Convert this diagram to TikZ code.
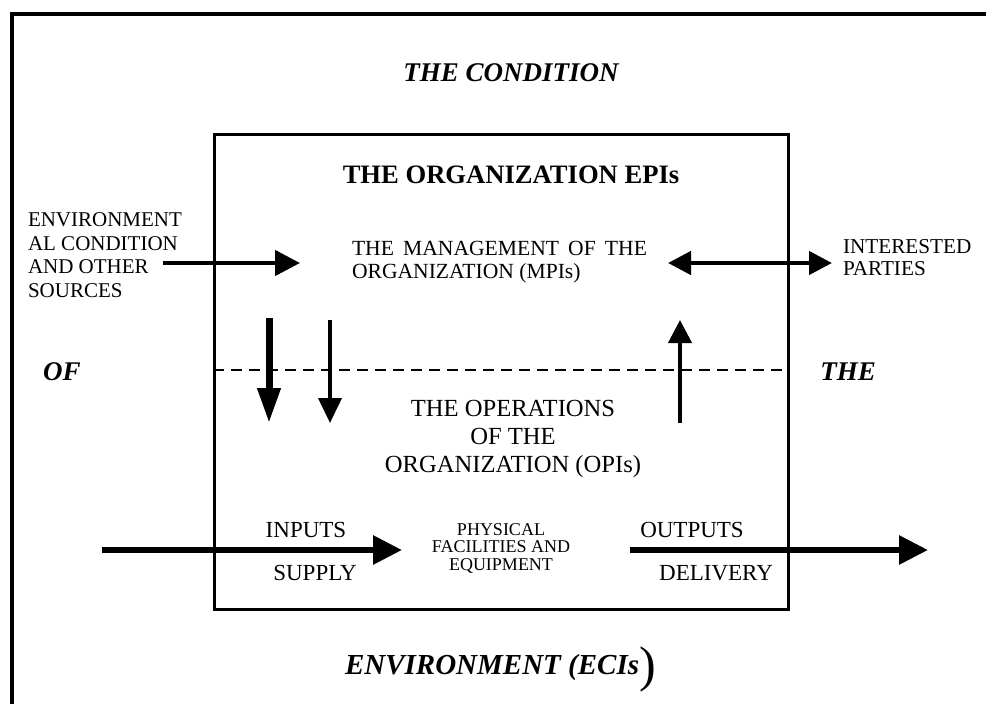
\documentclass[tikz,border=0pt]{standalone}
\usepackage{fontspec}
\setmainfont{Liberation Serif}
\usetikzlibrary{arrows.meta}
\tikzset{
  txt/.style={inner sep=0pt, outer sep=0pt},
  bigit/.style={txt, font=\fontsize{27}{30}\selectfont\bfseries\itshape},
  flow/.style={line width=4.5pt, -{Triangle[length=25pt,width=25pt]}},
  heavy/.style={line width=6pt, -{Triangle[length=29pt,width=28pt]}},
}
\begin{document}
\begin{tikzpicture}[x=1pt,y=-1pt]
\clip (0,0) rectangle (986,704);
\fill[white] (0,0) rectangle (986,704);
% outer frame (extends beyond the picture)
\draw[line width=4pt] (12,740) -- (12,14) -- (1020,14);
% inner box
\node[draw, line width=3pt, minimum width=574pt, minimum height=475pt, inner sep=0pt, anchor=north west] (org) at (213,133) {};
% texts
\node[bigit] (cond) at (511,73) {THE CONDITION};
\node[txt, font=\fontsize{26.6}{30}\selectfont\bfseries] (epi) at (511,175) {THE ORGANIZATION EPIs};
\node[txt, font=\fontsize{21.6}{23}\selectfont, align=left, anchor=west] (mpi) at (352,262)
  {\makebox[295pt][s]{THE MANAGEMENT OF THE}\\ORGANIZATION (MPIs)};
\node[txt, font=\fontsize{21}{23.5}\selectfont, align=left, anchor=west] (env) at (28,255)
  {ENVIRONMENT\\AL CONDITION\\AND OTHER\\SOURCES};
\node[txt, font=\fontsize{21.2}{22}\selectfont, align=left, anchor=west] (int) at (843,258)
  {INTERESTED\\PARTIES};
\node[bigit] (of) at (62,372) {OF};
\node[bigit] (the) at (848,372) {THE};
\node[txt, font=\fontsize{24.6}{28}\selectfont, align=center] (opi) at (513,439)
  {THE OPERATIONS\\OF THE\\ORGANIZATION (OPIs)};
\node[txt, font=\fontsize{18}{17.5}\selectfont, align=center] (phys) at (501,548)
  {PHYSICAL\\FACILITIES AND\\EQUIPMENT};
\node[txt, font=\fontsize{23}{25}\selectfont] (inp) at (306,530) {INPUTS};
\node[txt, font=\fontsize{23}{25}\selectfont] (sup) at (315,573) {SUPPLY};
\node[txt, font=\fontsize{23}{25}\selectfont] (outp) at (692,530) {OUTPUTS};
\node[txt, font=\fontsize{23}{25}\selectfont] (del) at (716,573) {DELIVERY};
\node[txt, font=\fontsize{29}{30}\selectfont\bfseries\itshape, anchor=base west] (eci) at (345,674)
  {ENVIRONMENT (ECIs{\fontsize{50}{50}\selectfont\mdseries\upshape\raisebox{-7pt}{)}}};
% connector end points
\coordinate (envA) at (163,263);
\coordinate (envB) at (300,263);
\coordinate (intA) at (668,263);
\coordinate (intB) at (832,263);
\coordinate (dA1) at (269,318);
\coordinate (dA2) at (269,423);
\coordinate (dB1) at (330,320);
\coordinate (dB2) at (330,423);
\coordinate (uA1) at (680,423);
\coordinate (uA2) at (680,320);
\coordinate (inA) at (102,550);
\coordinate (inB) at (402,550);
\coordinate (outA) at (630,550);
\coordinate (outB) at (928,550);
\coordinate (dashA) at (213,370);
\coordinate (dashB) at (787,370);
% connectors
\draw[flow] (envA) -- (envB);
\draw[line width=4.5pt, {Triangle[length=23pt,width=23pt]}-{Triangle[length=23pt,width=23pt]}] (intA) -- (intB);
\draw[line width=7pt, -{Triangle[length=35pt,width=22pt]}] (dA1) -- (dA2);
\draw[line width=4pt, -{Triangle[length=25pt,width=23pt]}] (dB1) -- (dB2);
\draw[line width=4pt, -{Triangle[length=23pt,width=23pt]}] (uA1) -- (uA2);
\draw[heavy] (inA) -- (inB);
\draw[heavy] (outA) -- (outB);
\draw[line width=2pt, dash pattern=on 11pt off 7pt] (dashA) -- (dashB);
\end{tikzpicture}
\end{document}
